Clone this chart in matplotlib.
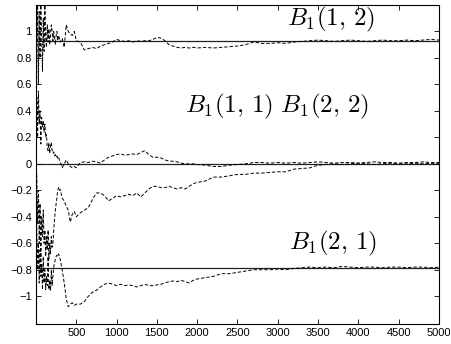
import numpy as np
import matplotlib
matplotlib.use('Agg')
import matplotlib.pyplot as plt

plt.rcParams['mathtext.fontset'] = 'cm'
plt.rcParams['font.family'] = ['Liberation Sans', 'DejaVu Sans']

# sample grid (iterations)
iters = np.r_[0:301:10, 325:501:25, 550:2001:50, 2100:5001:100]

# limit values (solid lines)
b12_true = 0.925
b11_true = 0.0
b21_true = -0.785

# estimates
b12 = [0.0, 0.9, 1.2, 0.6, 1.15, 0.8, 1.2, 0.95, 0.7, 1.1, 0.85, 1.2, 0.95, 0.88, 1.05, 0.92, 1.02, 0.9, 0.98, 1.05,
       1.0, 0.93, 1.0, 0.95, 0.9, 0.97, 1.0, 0.93, 0.97, 0.95, 0.92,
       0.95, 0.88, 1.05, 1.0, 0.98, 0.97, 1.0, 0.93,
       0.92, 0.86, 0.87, 0.88, 0.87, 0.89, 0.90, 0.91, 0.92, 0.94, 0.93, 0.925, 0.93, 0.92, 0.93, 0.925, 0.93, 0.93, 0.94, 0.955,
       0.95, 0.93, 0.90, 0.89, 0.88, 0.875, 0.88, 0.875, 0.88, 0.875,
       0.88, 0.875, 0.88, 0.885, 0.89, 0.90, 0.92, 0.91, 0.91, 0.915, 0.91, 0.92, 0.925, 0.93, 0.935, 0.93, 0.925, 0.93, 0.935, 0.93,
       0.925, 0.93, 0.935, 0.93, 0.93, 0.935, 0.93, 0.935, 0.94, 0.935]
b11 = [0.0, 0.5, 0.2, 0.55, 0.3, 0.4, 0.15, 0.35, 0.28, 0.32, 0.24, 0.3, 0.2, 0.22, 0.12, 0.1, 0.16, 0.08, 0.14, 0.16,
       0.1, 0.08, 0.09, 0.06, 0.07, 0.05, 0.06, 0.04, 0.05, 0.03, 0.02,
       -0.03, 0.0, 0.03, 0.0, -0.02, -0.03, -0.02, -0.03,
       0.01, 0.015, 0.01, 0.02, 0.015, 0.005, 0.03, 0.05, 0.06, 0.07, 0.075, 0.065, 0.07, 0.075, 0.07, 0.085, 0.10, 0.07, 0.05, 0.05,
       0.045, 0.03, 0.02, 0.02, 0.015, 0.005, 0.0, 0.0, 0.0, -0.005,
       -0.01, -0.02, -0.02, -0.01, -0.005, 0.0, 0.01, 0.01, 0.005, 0.01, 0.005, 0.01, 0.005, 0.01, 0.015, 0.01, 0.005, 0.01, 0.01, 0.005,
       0.01, 0.015, 0.01, 0.01, 0.005, 0.01, 0.01, 0.015, 0.01, 0.01]
b22 = [0.0, -0.1, -0.45, -0.2, -0.6, -0.3, -0.75, -0.4, -0.55, -0.35, -0.6, -0.5, -0.7, -0.55, -0.65, -0.5, -0.72, -0.6, -0.68, -0.55,
       -0.63, -0.6, -0.5, -0.42, -0.35, -0.3, -0.25, -0.2, -0.18, -0.2, -0.19,
       -0.26, -0.28, -0.32, -0.35, -0.44, -0.38, -0.36, -0.40,
       -0.37, -0.35, -0.33, -0.27, -0.22, -0.22, -0.24, -0.28, -0.26, -0.24, -0.25, -0.24, -0.23, -0.24, -0.22, -0.25, -0.22, -0.19, -0.17, -0.17,
       -0.18, -0.18, -0.17, -0.18, -0.19, -0.18, -0.19, -0.17, -0.15, -0.14,
       -0.13, -0.10, -0.10, -0.09, -0.08, -0.08, -0.07, -0.07, -0.065, -0.06, -0.06, -0.04, -0.035, -0.03, -0.01, -0.005, 0.0, -0.005, 0.0, 0.005,
       0.0, -0.005, 0.0, 0.005, 0.0, 0.0, 0.005, 0.0, 0.005, 0.0]
b21 = [0.0, -0.5, -0.8, -0.6, -0.9, -0.65, -0.85, -0.75, -0.95, -0.7, -0.9, -0.8, -0.95, -0.85, -0.92, -0.7, -0.95, -0.88, -0.96, -0.8,
       -0.92, -0.85, -0.78, -0.75, -0.72, -0.7, -0.69, -0.7, -0.68, -0.7, -0.72,
       -0.8, -0.9, -1.02, -1.08, -1.06, -1.05, -1.07, -1.06,
       -1.06, -1.04, -1.0, -0.97, -0.955, -0.93, -0.91, -0.9, -0.91, -0.92, -0.91, -0.92, -0.915, -0.92, -0.93, -0.92, -0.91, -0.92, -0.92, -0.915,
       -0.91, -0.90, -0.89, -0.885, -0.89, -0.88, -0.89, -0.9, -0.88, -0.87,
       -0.86, -0.85, -0.83, -0.83, -0.82, -0.81, -0.8, -0.8, -0.8, -0.795, -0.8, -0.79, -0.785, -0.78, -0.785, -0.78, -0.785, -0.775, -0.78, -0.785,
       -0.78, -0.78, -0.785, -0.78, -0.78, -0.785, -0.78, -0.78, -0.785, -0.78]

my_dpi = 100
fig = plt.figure(figsize=(452/my_dpi, 344/my_dpi), dpi=my_dpi, facecolor='w')
ax = fig.add_axes([36/452, 1-324/344, (439-36)/452, (324-5)/344])

for yv in [b12_true, b11_true, b21_true]:
    ax.axhline(yv, color='#222222', linewidth=0.9, zorder=1)

for series in [b12, b11, b22, b21]:
    ax.plot(iters, series, color='k', linestyle=(0, (3.5, 2)), linewidth=0.7, zorder=2)

lab_size = 18
ax.text(3666, 1.045, r'$B_1(1,\,2)$', fontsize=lab_size, ha='center', va='baseline')
ax.text(2986, 0.386, r'$B_1(1,\,1)\ B_1(2,\,2)$', fontsize=lab_size, ha='center', va='baseline')
ax.text(3680, -0.644, r'$B_1(2,\,1)$', fontsize=lab_size, ha='center', va='baseline')

ax.set_xlim(0, 5000)
ax.set_ylim(-1.21, 1.2)
ax.set_xticks(np.arange(500, 5001, 500))
ax.set_yticks([-1, -0.8, -0.6, -0.4, -0.2, 0, 0.2, 0.4, 0.6, 0.8, 1])
ax.set_yticklabels(['\u22121', '\u22120.8', '\u22120.6', '\u22120.4', '\u22120.2', '0', '0.2', '0.4', '0.6', '0.8', '1'])

for axis in ['top', 'bottom', 'left', 'right']:
    ax.spines[axis].set_linewidth(0.8)
ax.tick_params(axis='both', which='both', direction='in', top=True, right=True,
               length=3.5, width=0.6, labelsize=8, pad=3)

plt.savefig('out.png', dpi=my_dpi)
